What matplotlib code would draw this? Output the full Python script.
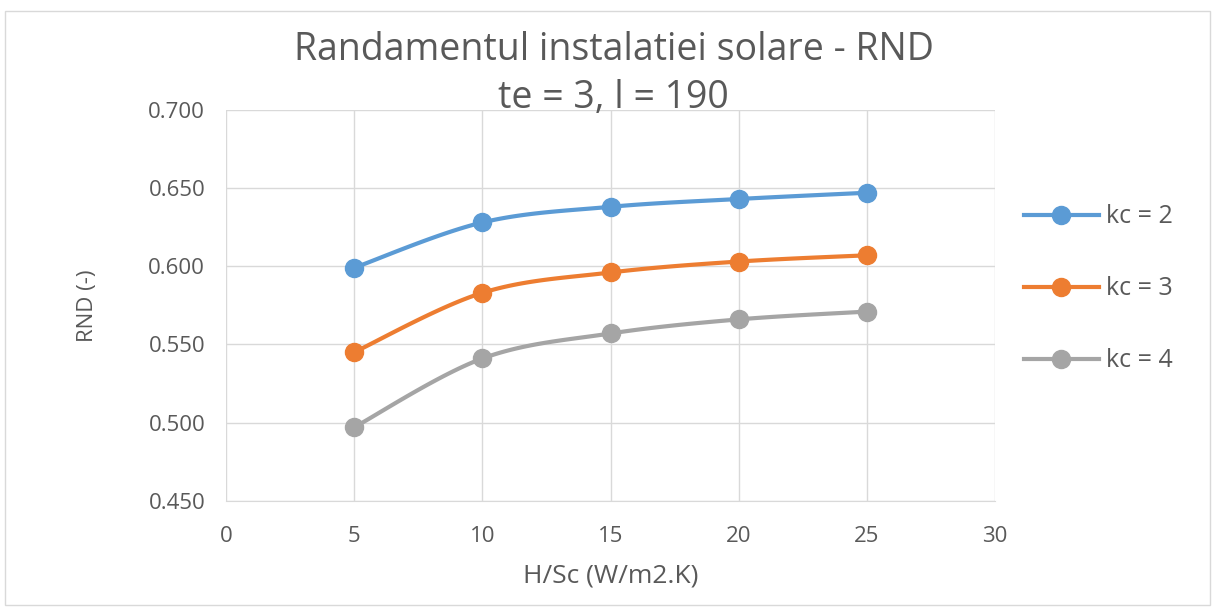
import numpy as np
import matplotlib
matplotlib.use("Agg")
import matplotlib.pyplot as plt
from matplotlib.patches import Rectangle

# data
hsc = [5, 10, 15, 20, 25]
rnd_kc2 = [0.599, 0.628, 0.638, 0.643, 0.647]
rnd_kc3 = [0.545, 0.583, 0.596, 0.603, 0.607]
rnd_kc4 = [0.497, 0.541, 0.557, 0.566, 0.571]
labels = ["kc = 2", "kc = 3", "kc = 4"]
colors = ["#5B9BD5", "#ED7D31", "#A5A5A5"]

x_ticks = [0, 5, 10, 15, 20, 25, 30]
y_ticks = [0.450, 0.500, 0.550, 0.600, 0.650, 0.700]


def smooth(x, y, n=30, t=1/6):
    # Excel-style smoothed line: bezier segments through the points
    x = np.asarray(x, float)
    y = np.asarray(y, float)
    px, py = [], []
    for i in range(len(x) - 1):
        p0 = (x[max(i - 1, 0)], y[max(i - 1, 0)])
        p1 = (x[i], y[i])
        p2 = (x[i + 1], y[i + 1])
        p3 = (x[min(i + 2, len(x) - 1)], y[min(i + 2, len(x) - 1)])
        c1 = (p1[0] + (p2[0] - p0[0]) * t, p1[1] + (p2[1] - p0[1]) * t)
        c2 = (p2[0] - (p3[0] - p1[0]) * t, p2[1] - (p3[1] - p1[1]) * t)
        s = np.linspace(0, 1, n)
        bx = (1-s)**3*p1[0] + 3*(1-s)**2*s*c1[0] + 3*(1-s)*s**2*c2[0] + s**3*p2[0]
        by = (1-s)**3*p1[1] + 3*(1-s)**2*s*c1[1] + 3*(1-s)*s**2*c2[1] + s**3*p2[1]
        px.extend(bx)
        py.extend(by)
    return px, py


plt.rcParams['font.family'] = ['Open Sans', 'DejaVu Sans']
text_color = "#595959"

fig = plt.figure(figsize=(12.15, 6.07), dpi=100)
fig.patches.append(Rectangle((0.004, 0.004), 0.992, 0.978, transform=fig.transFigure,
                             fill=False, edgecolor="#d9d9d9", linewidth=1))
ax = fig.add_axes([0.186, 0.175, 0.633, 0.644])

for series, label, color in zip([rnd_kc2, rnd_kc3, rnd_kc4], labels, colors):
    sx, sy = smooth(hsc, series)
    ax.plot(sx, sy, color=color, linewidth=3, solid_capstyle='round', zorder=3)
    ax.plot(hsc, series, linestyle='none', marker='o', markersize=13, color=color, zorder=4)
    ax.plot([], [], color=color, linewidth=3, marker='o', markersize=13, label=label)

ax.set_xlim(0, 30)
ax.set_ylim(0.450, 0.700)
ax.set_xticks(x_ticks)
ax.set_yticks(y_ticks)
ax.set_yticklabels([f"{v:.3f}" for v in y_ticks])
ax.grid(True, color="#d9d9d9", linewidth=1)
ax.set_axisbelow(True)
for side in ['top', 'right', 'left']:
    ax.spines[side].set_visible(False)
ax.spines['bottom'].set_color("#d9d9d9")
ax.tick_params(length=0, labelsize=16, colors=text_color)
ax.tick_params(axis='x', pad=18)
ax.tick_params(axis='y', pad=15)

ax.set_xlabel("H/Sc (W/m2.K)", fontsize=19, color=text_color, labelpad=12)
ax.set_ylabel("RND (-)", fontsize=16, color=text_color, labelpad=36)
fig.text(0.505, 0.918, "Randamentul instalatiei solare - RND", ha='center', va='center',
         fontsize=27, color=text_color)
fig.text(0.505, 0.838, "te = 3, l = 190", ha='center', va='center',
         fontsize=27, color=text_color)

ax.legend(loc='center left', bbox_to_anchor=(1.008, 0.542), frameon=False, fontsize=18,
          labelcolor=text_color, labelspacing=1.88, handlelength=3.0, handletextpad=0.3)

plt.savefig('out.png', dpi=100)
